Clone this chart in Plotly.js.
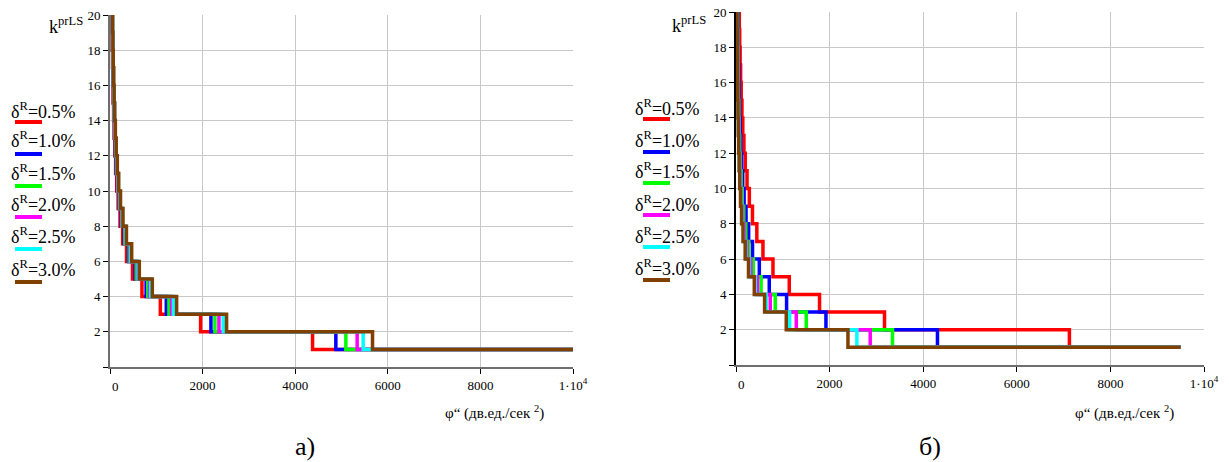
<!DOCTYPE html>
<html><head><meta charset="utf-8">
<script src="https://cdn.plot.ly/plotly-3.0.1.min.js"></script>
<style>html,body{margin:0;padding:0;background:#fff}</style>
</head><body><div id="chart" style="width:1229px;height:462px"></div>
<script>
// step levels k (from 22 down to 1)
const levels = [22,21,20,19,18,17,16,15,14,13,12,11,10,9,8,7,6,5,4,3,2,1];
const seriesNames = ['δ<sup>R</sup>=0.5%','δ<sup>R</sup>=1.0%','δ<sup>R</sup>=1.5%','δ<sup>R</sup>=2.0%','δ<sup>R</sup>=2.5%','δ<sup>R</sup>=3.0%'];
const colors = ['#ff0000','#0000ff','#00ff00','#ff00ff','#00ffff','#804000'];

// panel a): φ'' at which k drops from level k to k-1 (last value = end of curve)
const phiA_05 = [36,40,44,48,54,61,68,78,89,104,122,145,175,216,273,357,486,690,1087,1957,4375,10000];
const phiA_10 = [40,44,49,54,60,67,76,87,99,115,135,161,195,241,305,398,542,780,1216,2180,4878,10000];
const phiA_15 = [42,46,51,57,63,71,80,91,104,121,142,169,204,252,319,416,567,816,1273,2266,5094,10000];
const phiA_20 = [44,48,53,59,66,74,83,95,109,126,148,176,213,263,333,435,592,852,1331,2353,5338,10000];
const phiA_25 = [45,50,55,61,68,76,86,97,112,130,152,181,219,270,342,447,608,876,1369,2446,5468,10000];
const phiA_30 = [47,51,57,63,70,79,89,101,116,134,158,188,227,280,355,468,633,914,1439,2518,5670,10000];

// panel б)
const phiB_05 = [59,65,71,79,88,99,111,127,145,169,198,236,285,352,445,576,790,1138,1785,3173,7124,9500];
const phiB_10 = [36,39,43,48,53,60,68,77,88,102,120,143,173,214,270,353,498,711,1081,1922,4305,9500];
const phiB_15 = [28,30,34,37,41,46,52,60,68,79,93,111,134,165,209,273,372,536,839,1501,3344,9500];
const phiB_20 = [24,26,29,32,35,40,45,51,59,68,80,95,115,142,180,235,319,460,732,1288,2868,9500];
const phiB_25 = [21,23,26,29,32,36,40,46,53,61,72,85,103,127,161,210,286,412,644,1145,2583,9500];
const phiB_30 = [20,22,24,27,30,33,38,43,49,57,67,79,96,119,150,196,267,391,611,1074,2392,9500];

const xTickVals = [0,2000,4000,6000,8000,10000];
const xTickText = ['','2000','4000','6000','8000','1·10<sup>4</sup>'];
const yTickVals = [0,2,4,6,8,10,12,14,16,18,20];
const yTickText = ['','2','4','6','8','10','12','14','16','18','20'];

const W = 1229, H = 462;
const px = v => v / W;
const py = v => 1 - v / H;

const setA = [phiA_05, phiA_10, phiA_15, phiA_20, phiA_25, phiA_30];
const setB = [phiB_05, phiB_10, phiB_15, phiB_20, phiB_25, phiB_30];

const traces = [];
setA.forEach((xs, i) => traces.push({x: xs, y: levels, type: 'scatter', mode: 'lines',
  line: {shape: 'vh', color: colors[i], width: 3.5}, xaxis: 'x', yaxis: 'y', name: seriesNames[i], hoverinfo: 'skip'}));
setB.forEach((xs, i) => traces.push({x: xs, y: levels, type: 'scatter', mode: 'lines',
  line: {shape: 'vh', color: colors[i], width: 3.5}, xaxis: 'x2', yaxis: 'y2', name: seriesNames[i], hoverinfo: 'skip'}));

const serif = '"Liberation Serif", "Times New Roman", "DejaVu Serif", serif';
const tickFont = {family: serif, size: 13, color: '#000'};
function xAx(dom, anchor, lineColor) {
  return {domain: dom, anchor: anchor, range: [0, 10000], tickvals: xTickVals, ticktext: xTickText,
    showgrid: true, gridcolor: '#c8c8c8', gridwidth: 1, zeroline: false,
    showline: true, linecolor: lineColor, linewidth: 2, ticks: 'outside', ticklen: 5, tickcolor: '#000', tickwidth: 1,
    tickfont: tickFont, fixedrange: true};
}
function yAx(dom, anchor, lineColor) {
  return {domain: dom, anchor: anchor, range: [0, 20], tickvals: yTickVals, ticktext: yTickText,
    showgrid: true, gridcolor: '#c8c8c8', gridwidth: 1, zeroline: false,
    showline: true, linecolor: lineColor, linewidth: 2, ticks: 'outside', ticklen: 5, tickcolor: '#000', tickwidth: 1,
    tickfont: tickFont, fixedrange: true};
}

const annotations = [];
const shapes = [];
// legend texts and samples
const legA = {tx: 9, rows: [110,140,172,203,235,268], lines: [122,154,186,217,249,282], lx0: 15, lx1: 42};
const legB = {tx: 633, rows: [108,139,171,203,235,267], lines: [119,152,183,215,247,280], lx0: 643, lx1: 670};
[legA, legB].forEach(L => {
  seriesNames.forEach((nm, i) => {
    annotations.push({text: nm, xref: 'paper', yref: 'paper', x: px(L.tx), y: py(L.rows[i]), xanchor: 'left', yanchor: 'middle',
      showarrow: false, font: {family: serif, size: 18, color: '#000'}});
    shapes.push({type: 'line', xref: 'paper', yref: 'paper', x0: px(L.lx0), x1: px(L.lx1), y0: py(L.lines[i]), y1: py(L.lines[i]),
      line: {color: colors[i], width: 4}});
  });
});
// y-axis labels
annotations.push({text: 'k<sup>prLS</sup>', xref: 'paper', yref: 'paper', x: px(47), y: py(26), xanchor: 'left', yanchor: 'middle', showarrow: false, font: {family: serif, size: 18, color: '#000'}});
annotations.push({text: 'k<sup>prLS</sup>', xref: 'paper', yref: 'paper', x: px(670), y: py(24), xanchor: 'left', yanchor: 'middle', showarrow: false, font: {family: serif, size: 18, color: '#000'}});
// x-axis titles
annotations.push({text: 'φ“ (дв.ед./сек <sup>2</sup>)', xref: 'paper', yref: 'paper', x: px(443), y: py(412), xanchor: 'left', yanchor: 'middle', showarrow: false, font: {family: serif, size: 15, color: '#000'}});
annotations.push({text: 'φ“ (дв.ед./сек <sup>2</sup>)', xref: 'paper', yref: 'paper', x: px(1073), y: py(412), xanchor: 'left', yanchor: 'middle', showarrow: false, font: {family: serif, size: 15, color: '#000'}});
// zero labels
annotations.push({text: '0', xref: 'paper', yref: 'paper', x: px(115), y: py(386), xanchor: 'center', yanchor: 'middle', showarrow: false, font: tickFont});
annotations.push({text: '0', xref: 'paper', yref: 'paper', x: px(741), y: py(384), xanchor: 'center', yanchor: 'middle', showarrow: false, font: tickFont});
// panel captions
annotations.push({text: 'a)', xref: 'paper', yref: 'paper', x: px(305), y: py(446), xanchor: 'center', yanchor: 'middle', showarrow: false, font: {family: serif, size: 26, color: '#000'}});
annotations.push({text: 'б)', xref: 'paper', yref: 'paper', x: px(930), y: py(446), xanchor: 'center', yanchor: 'middle', showarrow: false, font: {family: serif, size: 26, color: '#000'}});

const layout = {
  width: W, height: H, margin: {l: 0, r: 0, t: 0, b: 0}, showlegend: false,
  paper_bgcolor: '#fff', plot_bgcolor: '#fff', font: {family: serif, color: '#000'},
  xaxis: xAx([px(110), px(573)], 'y', '#6e6e6e'),
  yaxis: yAx([py(367), py(15)], 'x', '#6e6e6e'),
  xaxis2: xAx([px(736), px(1204)], 'y2', '#6e6e6e'),
  yaxis2: yAx([py(365), py(12)], 'x2', '#000'),
  annotations: annotations, shapes: shapes
};
Plotly.newPlot('chart', traces, layout, {staticPlot: true, displayModeBar: false});
</script></body></html>
